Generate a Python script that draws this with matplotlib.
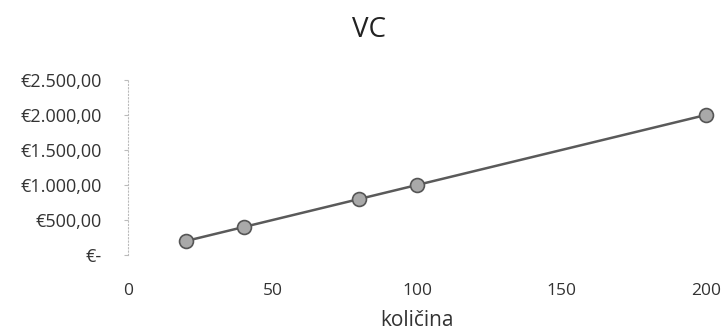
import matplotlib.pyplot as plt
from matplotlib.ticker import FuncFormatter

kolicina = [20, 40, 80, 100, 200]
vc = [200, 400, 800, 1000, 2000]
y_ticks = [0, 500, 1000, 1500, 2000, 2500]
x_ticks = [0, 50, 100, 150, 200]


def euro(v, pos):
    if v == 0:
        return "€-"
    s = f"{v:,.2f}".replace(",", "X").replace(".", ",").replace("X", ".")
    return "€" + s


plt.rcParams['font.family'] = ['Open Sans', 'DejaVu Sans']

fig = plt.figure(figsize=(7.24, 3.36), dpi=100)
ax = fig.add_axes([0.177, 0.241, 0.798, 0.521])

ax.plot(kolicina, vc, color='#5a5a5a', linewidth=1.8, marker='o', markersize=10,
        markerfacecolor='#a9a9a9', markeredgecolor='#555555', markeredgewidth=1.2,
        zorder=3, clip_on=False)

ax.set_xlim(0, 200)
ax.set_ylim(0, 2500)
ax.set_xticks(x_ticks)
ax.set_yticks(y_ticks)
ax.yaxis.set_major_formatter(FuncFormatter(euro))

for side in ['top', 'right', 'bottom']:
    ax.spines[side].set_visible(False)
ax.spines['left'].set_color('#bbbbbb')
ax.spines['left'].set_linestyle((0, (1, 2)))
ax.tick_params(axis='x', length=0, pad=20, labelsize=12.5, colors='#333333')
ax.tick_params(axis='y', length=3, color='#bbbbbb', pad=16, labelsize=13, colors='#333333')

fig.text(0.51, 0.91, "VC", fontsize=20, color='#222222', ha='center', va='center')
ax.set_xlabel("količina", fontsize=15, color='#333333', labelpad=8)

fig.savefig("out.png", dpi=100)
